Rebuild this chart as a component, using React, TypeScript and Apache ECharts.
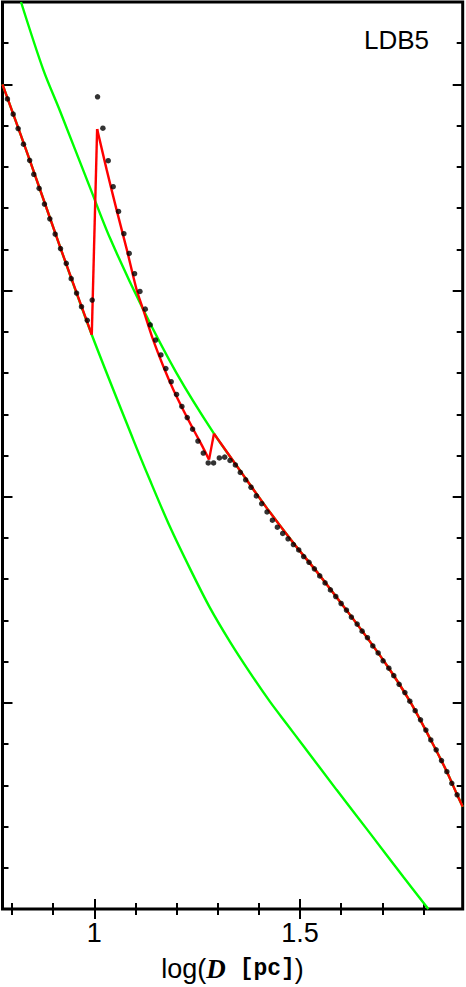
import React, { useEffect, useRef } from "react";
import * as echarts from "echarts";

// ---- axis ranges & ticks ----
const X_MIN = 0.777;
const X_MAX = 1.8955;
const Y_MIN = 0;
const Y_MAX = 2.2;

const xMajorTicks = [1.0, 1.5];
const xMinorTicks = [0.8, 0.9, 1.1, 1.2, 1.3, 1.4, 1.6, 1.7, 1.8];
const xTickLabels = [1, 1.5];
const yMajorTicks = [0.5, 1.0, 1.5, 2.0];
const yMinorTicks = [0.1, 0.2, 0.3, 0.4, 0.6, 0.7, 0.8, 0.9, 1.1, 1.2, 1.3, 1.4, 1.6, 1.7, 1.8, 1.9, 2.1];

// ---- observed profile (black dots) ----
const obsLogD = [
  0.789, 0.803, 0.815, 0.828, 0.843, 0.853, 0.866, 0.879, 0.892, 0.905,
  0.918, 0.932, 0.944, 0.957, 0.969, 0.983, 0.995, 1.008, 1.021, 1.034,
  1.046, 1.059, 1.072, 1.085, 1.098, 1.111, 1.124, 1.136, 1.149, 1.162,
  1.174, 1.187, 1.2, 1.213, 1.226, 1.239, 1.252, 1.265, 1.277, 1.29,
  1.304, 1.317, 1.33, 1.343, 1.355, 1.368, 1.381, 1.394, 1.407, 1.42,
  1.433, 1.445, 1.458, 1.471, 1.484, 1.497, 1.509, 1.522, 1.535, 1.548,
  1.561, 1.574, 1.587, 1.6, 1.613, 1.625, 1.639, 1.651, 1.664, 1.677,
  1.69, 1.702, 1.716, 1.728, 1.741, 1.755, 1.767, 1.78, 1.793, 1.806,
  1.818, 1.831, 1.844, 1.857, 1.869, 1.882,
];
const obsValue = [
  1.965, 1.928, 1.893, 1.855, 1.816, 1.782, 1.748, 1.71, 1.674, 1.637,
  1.602, 1.566, 1.529, 1.494, 1.461, 1.428, 1.477, 1.97, 1.894, 1.815,
  1.752, 1.692, 1.638, 1.59, 1.541, 1.498, 1.455, 1.417, 1.38, 1.344,
  1.311, 1.279, 1.248, 1.219, 1.192, 1.164, 1.135, 1.106, 1.082, 1.082,
  1.094, 1.096, 1.088, 1.077, 1.059, 1.041, 1.023, 1.002, 0.983, 0.963,
  0.943, 0.926, 0.911, 0.898, 0.884, 0.871, 0.855, 0.841, 0.825, 0.808,
  0.791, 0.774, 0.758, 0.741, 0.725, 0.708, 0.691, 0.674, 0.658, 0.638,
  0.621, 0.602, 0.584, 0.566, 0.545, 0.525, 0.504, 0.481, 0.459, 0.434,
  0.41, 0.386, 0.36, 0.333, 0.305, 0.277,
];

// ---- model curves ----
// shared part of the shallow (lower green) curve and the red model for logD < 1
const shallowHead: [number, number][] = [
  [0.777, 2.0], [0.843, 1.817], [0.918, 1.603], [0.994, 1.393],
];
const shallowTail: [number, number][] = [
  [1.095, 1.138], [1.135, 1.041], [1.184, 0.927], [1.233, 0.825], [1.281, 0.731],
  [1.33, 0.648], [1.378, 0.574], [1.427, 0.503], [1.467, 0.45], [1.508, 0.396],
  [1.589, 0.289], [1.67, 0.184], [1.751, 0.078], [1.812, 0.0],
];
// steep (upper green) curve before it joins the red model
const steepHead: [number, number][] = [
  [0.822, 2.2], [0.876, 2.036], [0.917, 1.935], [0.99, 1.749], [1.038, 1.628],
  [1.119, 1.454], [1.2, 1.3], [1.291, 1.153],
];
// shared part of the steep curve and the red model for logD > 1.29
const steepTail: [number, number][] = [
  [1.291, 1.153], [1.354, 1.064], [1.419, 0.973], [1.484, 0.888], [1.549, 0.808],
  [1.613, 0.725], [1.664, 0.657], [1.716, 0.584], [1.767, 0.504], [1.818, 0.41],
  [1.857, 0.333], [1.882, 0.277], [1.8955, 0.248],
];
// red model: jump, middle branch, spike
const modelJump: [number, number][] = [[0.994, 1.393], [1.007, 1.892]];
const modelMid: [number, number][] = [
  [1.007, 1.892], [1.03, 1.794], [1.054, 1.697], [1.079, 1.6], [1.103, 1.502],
  [1.119, 1.454], [1.143, 1.381], [1.168, 1.316], [1.192, 1.26], [1.216, 1.211],
  [1.241, 1.163], [1.265, 1.118], [1.279, 1.09],
];
const modelSpike: [number, number][] = [[1.279, 1.09], [1.291, 1.153]];

const GREEN = "#00ff00";
const RED = "#ff0000";

function xAxisDef(position: "top" | "bottom", ticks: number[], len: number, withLabels: boolean) {
  return {
    type: "value",
    gridIndex: 0,
    position,
    min: X_MIN,
    max: X_MAX,
    axisLine: { show: false },
    splitLine: { show: false },
    axisTick: {
      show: true,
      inside: true,
      length: len,
      customValues: ticks,
      lineStyle: { color: "#000", width: 2 },
    },
    axisLabel: withLabels
      ? {
          show: true,
          customValues: xTickLabels,
          margin: 10,
          color: "#000",
          fontSize: 27,
          fontFamily: "Liberation Sans",
        }
      : { show: false },
  } as any;
}

function yAxisDef(position: "left" | "right", ticks: number[], len: number) {
  return {
    type: "value",
    gridIndex: 0,
    position,
    min: Y_MIN,
    max: Y_MAX,
    axisLine: { show: false },
    splitLine: { show: false },
    axisTick: {
      show: true,
      inside: true,
      length: len,
      customValues: ticks,
      lineStyle: { color: "#000", width: 2 },
    },
    axisLabel: { show: false },
  } as any;
}

function lineSeries(name: string, data: [number, number][], color: string, smooth: boolean, z: number) {
  return {
    type: "line",
    name,
    xAxisIndex: 0,
    yAxisIndex: 0,
    data,
    smooth: smooth ? 0.3 : false,
    showSymbol: false,
    symbol: "none",
    lineStyle: { color, width: 2.4 },
    itemStyle: { color },
    z,
    silent: true,
  } as any;
}

export default function App() {
  const ref = useRef<HTMLDivElement>(null);

  useEffect(() => {
    if (!ref.current) return;
    const chart = echarts.init(ref.current, null, { renderer: "svg" });

    const xAxes = [
      xAxisDef("bottom", xMajorTicks, 10, true),
      xAxisDef("top", xMajorTicks, 10, false),
      xAxisDef("bottom", xMinorTicks, 6, false),
      xAxisDef("top", xMinorTicks, 6, false),
    ];
    xAxes[0].name = "{a|log(}{d|D}{b| [pc]}{a|)}";
    xAxes[0].nameLocation = "middle";
    xAxes[0].nameGap = 46;
    xAxes[0].nameTextStyle = {
      rich: {
        a: { fontFamily: "Liberation Sans", fontSize: 27, color: "#000" },
        d: { fontFamily: "Liberation Serif", fontWeight: "bold", fontStyle: "italic", fontSize: 27, color: "#000" },
        b: { fontFamily: "Liberation Mono", fontWeight: "bold", fontSize: 23, color: "#000" },
      },
    };

    const yAxes = [
      yAxisDef("left", yMajorTicks, 10),
      yAxisDef("right", yMajorTicks, 10),
      yAxisDef("left", yMinorTicks, 6),
      yAxisDef("right", yMinorTicks, 6),
    ];

    const obsData = obsLogD.map((x, i) => [x, obsValue[i]]);

    chart.setOption({
      animation: false,
      backgroundColor: "#fff",
      textStyle: { fontFamily: "Liberation Sans" },
      grid: {
        left: 2.5,
        top: 2,
        width: 460.2,
        height: 907,
        containLabel: false,
        outerBoundsMode: "none",
        show: true,
        borderColor: "#000",
        borderWidth: 3,
        backgroundColor: "transparent",
      },
      xAxis: xAxes,
      yAxis: yAxes,
      graphic: [
        {
          type: "text",
          x: 429,
          y: 40,
          z: 100,
          style: {
            text: "LDB5",
            fill: "#000",
            fontSize: 26,
            fontFamily: "Liberation Sans",
            align: "right",
            textAlign: "right",
            verticalAlign: "middle",
            textVerticalAlign: "middle",
          },
        },
      ],
      series: [
        lineSeries("shallow", [...shallowHead, ...shallowTail], GREEN, true, 2),
        lineSeries("steep", [...steepHead, ...steepTail.slice(1)], GREEN, true, 2),
        lineSeries("model-low", shallowHead, RED, true, 3),
        lineSeries("model-jump", modelJump, RED, false, 3),
        lineSeries("model-mid", modelMid, RED, true, 3),
        lineSeries("model-spike", modelSpike, RED, false, 3),
        lineSeries("model-high", steepTail, RED, true, 3),
        {
          type: "scatter",
          name: "observed",
          xAxisIndex: 0,
          yAxisIndex: 0,
          data: obsData,
          symbol: "circle",
          symbolSize: 5.5,
          itemStyle: { color: "#000" },
          z: 4,
          silent: true,
        },
      ],
    });

    return () => chart.dispose();
  }, []);

  return (
    <div
      ref={ref}
      style={{ position: "fixed", left: 0, top: 0, width: 466, height: 987, background: "#fff" }}
    />
  );
}
